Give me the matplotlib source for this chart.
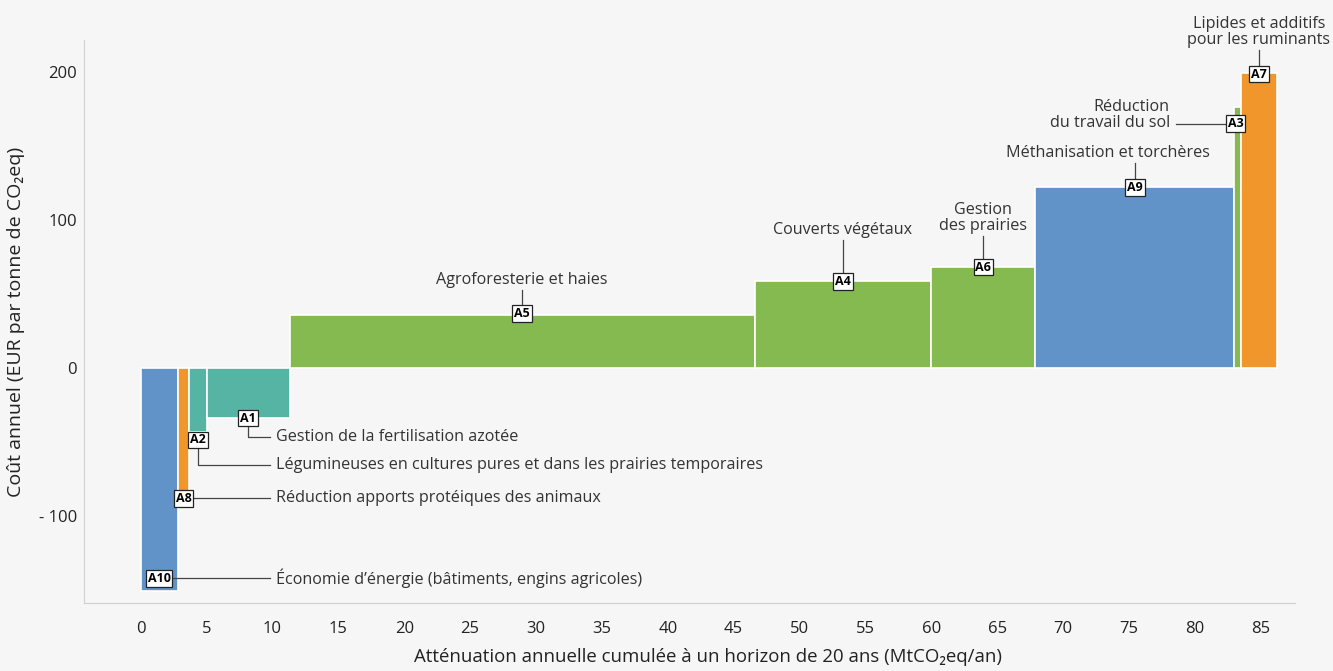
import matplotlib
matplotlib.use("Agg")
import matplotlib.pyplot as plt
import numpy as np

plt.rcParams['font.family'] = ['Open Sans', 'DejaVu Sans']

# abatement levers (order along the x axis)
codes = ["A10", "A8", "A2", "A1", "A5", "A4", "A6", "A9", "A3", "A7"]
widths = [2.8, 0.9, 1.3, 6.3, 35.3, 13.4, 7.9, 15.1, 0.5, 2.7]   # MtCO2eq/an
costs = [-151, -90, -43, -34, 36, 59, 68, 122, 176, 199]          # EUR / tCO2eq
kinds = ["energie", "elevage", "sol", "sol", "stock", "stock", "stock", "energie", "stock", "elevage"]
names = ["Économie d’énergie (bâtiments, engins agricoles)",
         "Réduction apports protéiques des animaux",
         "Légumineuses en cultures pures et dans les prairies temporaires",
         "Gestion de la fertilisation azotée",
         "Agroforesterie et haies",
         "Couverts végétaux",
         "Gestion\ndes prairies",
         "Méthanisation et torchères",
         "Réduction\ndu travail du sol",
         "Lipides et additifs\npour les ruminants"]
xticks = list(range(0, 90, 5))
yticks = [-100, 0, 100, 200]
yticklabels = ["- 100", "0", "100", "200"]

colors = {"energie": "#6293c8", "elevage": "#f0962a", "sol": "#56b4a4", "stock": "#84ba50"}

fig = plt.figure(figsize=(13.33, 6.71), dpi=100)
fig.patch.set_facecolor("#f6f6f6")
ax = fig.add_axes([0.063, 0.1013, 0.9085, 0.8391])
ax.set_facecolor("#f6f6f6")

lefts = np.concatenate([[0], np.cumsum(widths)[:-1]])
ax.bar(lefts, costs, width=widths, align="edge",
       color=[colors[k] for k in kinds], edgecolor="white", linewidth=1.2, zorder=2)

ax.set_xlim(-4.3, 87.6)
ax.set_ylim(-158.8, 221.6)
ax.set_xticks(xticks)
ax.set_yticks(yticks)
ax.set_yticklabels(yticklabels)
ax.tick_params(axis="both", length=0, labelsize=12, colors="#222222")
ax.tick_params(axis="x", pad=13)
ax.tick_params(axis="y", pad=5)
for s in ["top", "right"]:
    ax.spines[s].set_visible(False)
for s in ["left", "bottom"]:
    ax.spines[s].set_color("#d0d0d0")

ax.set_ylabel("Coût annuel (EUR par tonne de CO₂eq)", fontsize=14, color="#222222", labelpad=10)
ax.set_xlabel("Atténuation annuelle cumulée à un horizon de 20 ans (MtCO₂eq/an)",
              fontsize=13.4, color="#222222")
ax.xaxis.set_label_coords(0.515, -0.08)

centers = lefts + np.array(widths) / 2
# label box y, leader path, text pos / alignment
boxy = {"A10": -142, "A8": -88, "A2": -48.6, "A1": -33.8, "A5": 37, "A4": 58.5,
        "A6": 68.2, "A9": 122, "A3": 165, "A7": 198.6}
lc = "#444444"
tc = "#333333"
fs = 11.6
for i, c in enumerate(codes):
    bx, by = centers[i], boxy[c]
    if c in ("A10", "A8"):
        ax.plot([bx, 9.8], [by, by], color=lc, lw=0.9, zorder=3)
        ax.text(10.25, by, names[i], ha="left", va="center", fontsize=fs, color=tc)
    elif c in ("A2", "A1"):
        ly = {"A2": -65.5, "A1": -46.6}[c]
        ax.plot([bx, bx, 9.8], [by, ly, ly], color=lc, lw=0.9, zorder=3)
        ax.text(10.25, ly, names[i], ha="left", va="center", fontsize=fs, color=tc)
    elif c == "A3":
        bx = 83.1
        ax.plot([bx, 78.6], [by, by], color=lc, lw=0.9, zorder=3)
        ax.text(78.1, 171, names[i], ha="right", va="center", fontsize=fs, color=tc,
                multialignment="right", linespacing=1.0)
    else:
        top = {"A5": 52.7, "A4": 86.5, "A6": 89, "A9": 138.5, "A7": 215}[c]
        ax.plot([bx, bx], [by, top], color=lc, lw=0.9, zorder=3, clip_on=False)
        tx = 73.4 if c == "A9" else bx
        ax.text(tx, top + 1.5, names[i], ha="center", va="bottom", fontsize=fs, color=tc,
                linespacing=1.0, clip_on=False)
    ax.text(bx, by, c, ha="center", va="center", fontsize=9, fontweight="bold",
            color="black", zorder=5,
            bbox=dict(boxstyle="square,pad=0.15", fc="white", ec="#222222", lw=0.9))

fig.savefig("out.png", dpi=100, facecolor=fig.get_facecolor())
